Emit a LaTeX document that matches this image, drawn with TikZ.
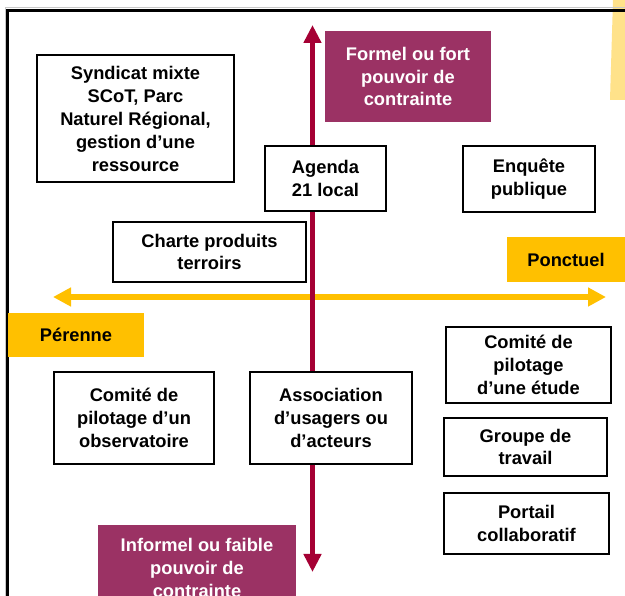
\documentclass[tikz,border=0pt]{standalone}
\usepackage{fontspec}
\setmainfont{Liberation Sans}
\usetikzlibrary{arrows.meta}
\definecolor{plum}{RGB}{155,50,100}
\definecolor{crimson}{RGB}{165,0,52}
\definecolor{amber}{RGB}{255,192,0}
\definecolor{paleamber}{RGB}{255,226,138}
\definecolor{lgray}{RGB}{200,200,200}
\tikzset{
  txt/.style={font=\fontsize{18.3}{22.8}\selectfont\bfseries, align=center, inner sep=0pt},
  wbox/.style={txt, draw=black, line width=2pt, fill=white},
  pbox/.style={txt, fill=plum, text=white},
  ybox/.style={txt, fill=amber, text=black},
  axisv/.style={draw=crimson, line width=5pt, {Triangle[width=17pt,length=18pt]}-{Triangle[width=17pt,length=18pt]}},
  axish/.style={draw=amber, line width=6pt, {Triangle[width=18pt,length=18pt]}-{Triangle[width=18pt,length=18pt]}},
}
\begin{document}
\begin{tikzpicture}[x=1pt,y=-1pt]
\useasboundingbox (0,0) rectangle (625,596);
\clip (0,0) rectangle (625,596);
\fill[white] (0,0) rectangle (625,596);
% page edges
\fill[paleamber] (613,0) -- (625,0) -- (625,100) -- (610,100) -- cycle;
\draw[lgray, line width=1pt] (5,596) -- (5,8) -- (625,8);
\draw[black, line width=3pt] (7.5,596) -- (7.5,11) -- (625,11);
% labels
\node[pbox, minimum width=166pt, minimum height=91pt] (fort) at (408,76.5) {Formel ou fort\\pouvoir de\\contrainte};
\node[pbox, minimum width=198pt, minimum height=86pt] (faible) at (197,568) {Informel ou faible\\pouvoir de\\contrainte};
\node[ybox, minimum width=118pt, minimum height=45pt] (ponctuel) at (566,259.5) {Ponctuel};
\node[ybox, minimum width=136pt, minimum height=44pt] (perenne) at (76,335) {Pérenne};
% axes
\coordinate (hl) at (53,297);
\coordinate (hr) at (606,297);
\coordinate (vt) at (312.5,25);
\coordinate (vb) at (312.5,572);
\draw[axish] (hl) -- (hr);
\draw[axisv] (vt) -- (vb);
% boxes
\node[wbox, minimum width=197pt, minimum height=127pt] (syn) at (135.5,119) {Syndicat mixte\\SCoT, Parc\\Naturel Régional,\\gestion d’une\\ressource};
\node[wbox, minimum width=121pt, minimum height=65pt] (agenda) at (325.5,178.5) {Agenda\\21 local};
\node[wbox, minimum width=132pt, minimum height=66pt] (enquete) at (529,179) {Enquête\\publique};
\node[wbox, minimum width=193pt, minimum height=60pt] (charte) at (209.5,252) {Charte produits\\terroirs};
\node[wbox, minimum width=165pt, minimum height=76pt] (cpe) at (528.5,365) {Comité de\\pilotage\\d’une étude};
\node[wbox, minimum width=160pt, minimum height=92pt] (cpo) at (134,418) {Comité de\\pilotage d’un\\observatoire};
\node[wbox, minimum width=162pt, minimum height=92pt] (assoc) at (331,418) {Association\\d’usagers ou\\d’acteurs};
\node[wbox, minimum width=163pt, minimum height=58pt] (groupe) at (525.5,447) {Groupe de\\travail};
\node[wbox, minimum width=165pt, minimum height=61pt] (portail) at (526.5,523.5) {Portail\\collaboratif};
\end{tikzpicture}
\end{document}
